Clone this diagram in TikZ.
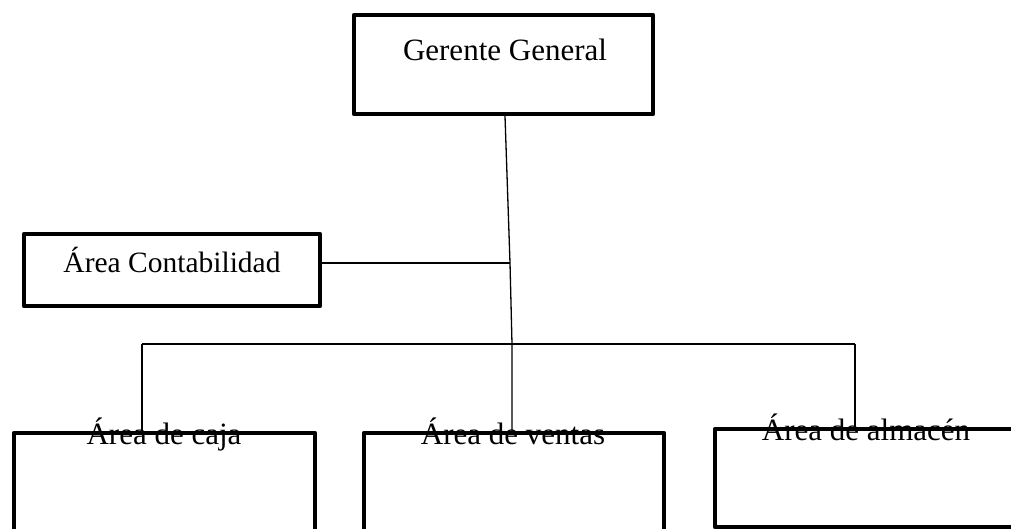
\documentclass[tikz,border=0pt]{standalone}
\usepackage{fontspec}
\setmainfont{Liberation Serif}
\begin{document}
\begin{tikzpicture}[x=1pt,y=1pt,
  box/.style={draw=black, line width=4.3pt, rectangle, inner sep=0pt, line join=round},
  lbl/.style={inner sep=0pt, anchor=base, font=\fontsize{31}{36}\selectfont},
  conn/.style={draw=black, line width=1.3pt}]
\useasboundingbox (0,0) rectangle (1011,-528);
\clip (0,0) rectangle (1011,-528);
% text labels (drawn first, box borders overlap them)
\node[lbl] (gt) at (505,-60) {Gerente General};
\node[lbl, font=\fontsize{29.5}{34}\selectfont] (ct) at (172,-272) {Área Contabilidad};
\node[lbl] (cajat) at (164,-444.5) {Área de caja};
\node[lbl] (ventast) at (513,-444.5) {Área de ventas};
\node[lbl] (almt) at (866,-440) {Área de almacén};
% boxes
\node[box, minimum width=299pt, minimum height=99pt] (g) at (503.5,-64.5) {};
\node[box, minimum width=296pt, minimum height=72pt] (c) at (172,-270) {};
\node[box, minimum width=301pt, minimum height=127pt] (caja) at (164.5,-496.5) {};
\node[box, minimum width=300pt, minimum height=127pt] (ventas) at (514,-496.5) {};
\node[box, minimum width=305pt, minimum height=98pt] (alm) at (867.5,-478) {};
% connectors
\coordinate (j1) at (510,-263);
\coordinate (j2) at (512,-344);
\coordinate (bl) at (142,-344);
\coordinate (br) at (855,-344);
\draw[conn] (g.south -| 505,0) -- (j1) -- (j2) -- (ventas.north -| j2);
\draw[conn] (c.east |- j1) -- (j1);
\draw[conn] (bl) -- (br);
\draw[conn] (bl) -- (caja.north -| bl);
\draw[conn] (br) -- (alm.north -| br);
\end{tikzpicture}
\end{document}
